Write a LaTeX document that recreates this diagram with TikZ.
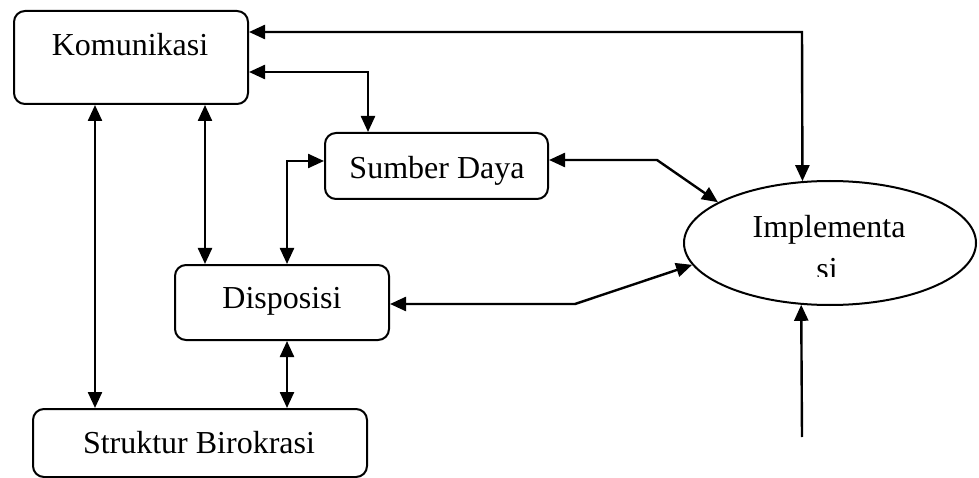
\documentclass[tikz,border=0pt]{standalone}
\usepackage{fontspec}
\setmainfont{Liberation Serif}
\usetikzlibrary{shapes.geometric,arrows.meta}
\begin{document}
\begin{tikzpicture}[x=1pt,y=-1pt,
  box/.style={draw,line width=2pt,rounded corners=11pt,inner sep=0pt},
  lbl/.style={anchor=base,inner sep=0pt,font=\fontsize{32}{38}\selectfont},
  dbl/.style={line width=2.4pt,{Triangle[length=16pt,width=14pt]}-{Triangle[length=16pt,width=14pt]}},
  sgl/.style={line width=2.4pt,-{Triangle[length=16pt,width=14pt]}}]
\useasboundingbox (0,0) rectangle (979,478);
% boxes
\node[box,minimum width=234pt,minimum height=93pt] (kom) at (131,57.5) {};
\node[lbl] (komt) at (130,56) {Komunikasi};
\node[box,minimum width=223pt,minimum height=66pt] (sd) at (436.5,166) {};
\node[lbl] (sdt) at (437,179) {Sumber Daya};
\node[box,minimum width=214pt,minimum height=75pt] (dis) at (282,302.5) {};
\node[lbl] (dist) at (282,308) {Disposisi};
\node[box,minimum width=334pt,minimum height=68pt] (sb) at (200,443) {};
\node[lbl] (sbt) at (199,453) {Struktur Birokrasi};
\node[draw,ellipse,line width=2pt,minimum width=292pt,minimum height=124pt,inner sep=0pt] (imp) at (830,243) {};
\node[lbl] (impt) at (829,238) {Implementa};
\begin{scope}
\clip (700,180) rectangle (960,276);
\node[lbl] (imps) at (827,279) {si};
\end{scope}
% connectors
\draw[dbl] (kom.east |- 0,32) -- (802,32) -- (imp.114.7);
\draw[dbl] (kom.east |- 0,72) -- (368,72) -- (sd.north -| 368,0);
\draw[dbl] (kom.south -| 95,0) -- (sb.north -| 95,0);
\draw[dbl] (kom.south -| 205,0) -- (dis.north -| 205,0);
\draw[dbl] (dis.north -| 287,0) -- (287,161) -- (sd.west |- 0,161);
\draw[dbl] (dis.south -| 287,0) -- (sb.north -| 287,0);
\draw[dbl] (sd.east |- 0,160) -- (657,160) -- (imp.160.3);
\draw[dbl] (dis.east |- 0,304) -- (575,304) -- (imp.189);
\coordinate (src) at (802,437);
\draw[sgl] (src) -- (imp.245.3);
\end{tikzpicture}
\end{document}
